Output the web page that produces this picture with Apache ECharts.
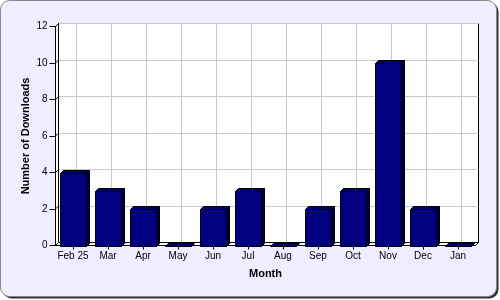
<!DOCTYPE html>
<html>
<head>
<meta charset="utf-8">
<script src="https://cdn.jsdelivr.net/npm/echarts@6/dist/echarts.min.js"></script>
<style>html,body{margin:0;padding:0;background:#fff;}#c{width:500px;height:300px;}</style>
</head>
<body>
<div id="c"></div>
<script>
const categories = ['Feb 25','Mar','Apr','May','Jun','Jul','Aug','Sep','Oct','Nov','Dec','Jan'];
const downloads = [4,3,2,0,2,3,0,2,3,10,2,0];
const yTicks = [0,2,4,6,8,10,12];

const DEPTH = 3;
const FONT = 'Liberation Sans';
const chart = echarts.init(document.getElementById('c'), null, {renderer:'canvas'});

const barData = downloads.map((v,i)=>[i,v]);

chart.setOption({
  animation:false,
  backgroundColor:'transparent',
  graphic:[
    {type:'rect', z:-10, shape:{x:2.5,y:2.5,width:496,height:296,r:9}, style:{fill:'#333'}},
    {type:'rect', z:-9, shape:{x:0.5,y:0.5,width:496,height:296,r:9}, style:{fill:'#EEEEFF', stroke:'#888', lineWidth:1}}
  ],
  grid:[
    {left:55.5, right:24.5, top:26.5, bottom:54.5, show:true, backgroundColor:'#fff', borderWidth:0},
    {left:58.5, right:21.5, top:23.5, bottom:57.5, show:true, backgroundColor:'#fff', borderColor:'#000', borderWidth:1}
  ],
  xAxis:[
    {type:'category', gridIndex:0, data:categories,
     axisLine:{show:true, lineStyle:{color:'#000', width:1}},
     axisTick:{show:true, alignWithLabel:true, length:4, interval:0, lineStyle:{color:'#000'}},
     axisLabel:{fontFamily:FONT, fontSize:10, color:'#000', margin:6, interval:0},
     splitLine:{show:false},
     name:'Month', nameLocation:'middle', nameGap:23,
     nameTextStyle:{fontFamily:FONT, fontSize:11, fontWeight:'bold', color:'#000'}},
    {type:'value', gridIndex:1, min:0, max:24, interval:1,
     axisLine:{show:false}, axisTick:{show:false}, axisLabel:{show:false},
     splitLine:{show:true, lineStyle:{color:['rgba(0,0,0,0)','#c8c8c8'], width:1}}}
  ],
  yAxis:[
    {type:'value', gridIndex:0, min:0, max:12, interval:2,
     axisLine:{show:true, lineStyle:{color:'#000', width:1}},
     axisTick:{show:true, length:6, lineStyle:{color:'#000'}},
     axisLabel:{fontFamily:FONT, fontSize:10, color:'#000', margin:8},
     splitLine:{show:false},
     name:'Number of Downloads', nameLocation:'middle', nameGap:24, nameMoveOverlap:false,
     nameTextStyle:{fontFamily:FONT, fontSize:11, fontWeight:'bold', color:'#000'}},
    {type:'value', gridIndex:1, min:0, max:12, interval:2,
     axisLine:{show:false}, axisTick:{show:false}, axisLabel:{show:false},
     splitLine:{show:true, lineStyle:{color:'#c8c8c8', width:1}}}
  ],
  series:[
    {
      type:'custom', xAxisIndex:0, yAxisIndex:0, z:1, silent:true,
      data:yTicks.map(v=>[0,v]),
      renderItem:function(params, api){
        const cs = params.coordSys;
        const v = api.value(1);
        const p = api.coord([0, v]);
        const x = cs.x, y = cs.y, w = cs.width, h = cs.height, d = DEPTH;
        const children = [];
        if (params.dataIndex === 0) {
          children.push({type:'polygon', shape:{points:[[x,y],[x+d,y-d],[x+d,y+h-d],[x,y+h]]}, style:{fill:'#fff', stroke:'#000', lineWidth:1}});
          children.push({type:'polygon', shape:{points:[[x,y+h],[x+w,y+h],[x+w+d,y+h-d],[x+d,y+h-d]]}, style:{fill:'#fff', stroke:'#000', lineWidth:1}});
        }
        children.push({type:'line', shape:{x1:x, y1:p[1], x2:x+d, y2:p[1]-d}, style:{stroke:'#000', lineWidth:1}});
        return {type:'group', children:children};
      }
    },
    {
      type:'custom', xAxisIndex:0, yAxisIndex:0, z:5, silent:true,
      data:barData,
      encode:{x:0, y:1},
      renderItem:function(params, api){
        const i = api.value(0), v = api.value(1);
        const top = api.coord([i, v]);
        const base = api.coord([i, 0]);
        const bw = api.size([1,0])[0]*0.73;
        const d = DEPTH;
        const x0 = Math.round(top[0]-bw/2)+0.5, x1 = x0 + Math.round(bw);
        const yT = Math.round(top[1])+0.5, yB = Math.round(base[1])+0.5;
        const children = [];
        if (yB - yT >= 1) {
          children.push({type:'rect', shape:{x:x0, y:yT, width:x1-x0, height:yB-yT}, style:{fill:'#000080', stroke:'#000', lineWidth:1}});
          children.push({type:'polygon', shape:{points:[[x1,yT],[x1+d,yT-d],[x1+d,yB-d],[x1,yB]]}, style:{fill:'#000040', stroke:'#000', lineWidth:1}});
        }
        children.push({type:'polygon', shape:{points:[[x0,yT],[x0+d,yT-d],[x1+d,yT-d],[x1,yT]]}, style:{fill:'#000070', stroke:'#000', lineWidth:1}});
        return {type:'group', children:children};
      }
    }
  ]
});
</script>
</body>
</html>
